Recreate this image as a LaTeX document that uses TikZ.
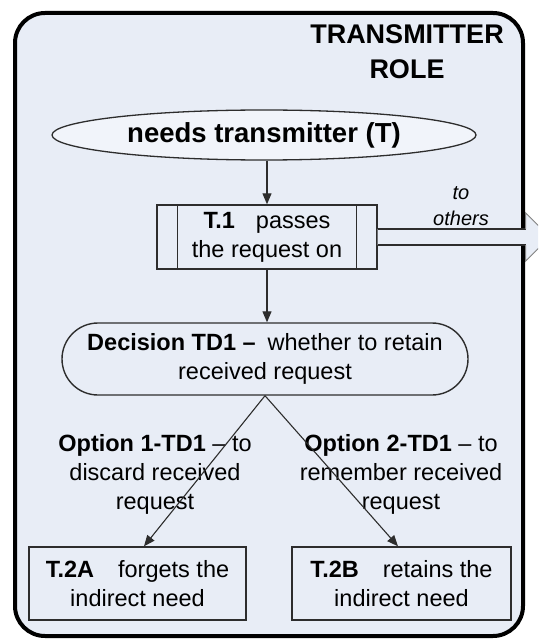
\documentclass[tikz,border=0pt]{standalone}
\usepackage{fontspec}
\setmainfont{Liberation Sans}
\usetikzlibrary{arrows.meta,shapes.geometric}
\definecolor{panel}{RGB}{232,237,246}
\definecolor{ink}{RGB}{45,45,45}
\definecolor{headline}{RGB}{130,130,130}

\begin{document}
\begin{tikzpicture}[x=1pt,y=-1pt,
  body/.style={font=\fontsize{23.5}{29}\selectfont, align=center, inner sep=0pt},
  box/.style={draw=ink, line width=1.4pt, fill=panel},
  conn/.style={draw=ink, line width=1.1pt, -{Triangle[length=11pt,width=9pt]}},
]
\useasboundingbox (0,0) rectangle (538,639);
\clip (0,0) rectangle (538,639);
\fill[white] (0,0) rectangle (538,639);

% role frame
\node[draw=black, line width=4pt, fill=panel, rounded corners=30pt,
      minimum width=508pt, minimum height=623pt, inner sep=0pt] (role) at (269,324.5) {};
\node[font=\fontsize{27}{35}\selectfont\bfseries, align=center, inner sep=0pt] (title) at (407,52) {TRANSMITTER\\ROLE};

% start: the need
\node[ellipse, draw=ink, line width=1.3pt, fill=panel!60!white, minimum width=424pt,
      minimum height=50pt, inner sep=0pt, font=\fontsize{27.5}{33}\selectfont\bfseries] (need) at (264,135) {needs transmitter (T)};

% T.1 process box with side bars
\node[box, minimum width=220pt, minimum height=64pt, body] (t1) at (267,237)
  {\textbf{T.1}\hspace{21pt}passes\\the request on};
\draw[ink, line width=1.4pt] ([xshift=21pt]t1.north west) -- ([xshift=21pt]t1.south west);
\draw[ink, line width=1.4pt] ([xshift=-21pt]t1.north east) -- ([xshift=-21pt]t1.south east);

% block arrow leaving the role
\fill[panel] ([yshift=8pt]t1.east) -- ++(148,0) -- ++(0,-16) -- ++(24,24) -- ++(-24,24) -- ++(0,-16) -- ++(-148,0) -- cycle;
\draw[ink, line width=1.4pt] ([yshift=8pt]t1.east) -- ++(148,0);
\draw[ink, line width=1.4pt] ([yshift=-8pt]t1.east) -- ++(148,0);
\draw[headline, line width=1pt] ([yshift=8pt,xshift=148pt]t1.east) -- ++(0,-16) -- ++(24,24) -- ++(-24,24) -- ++(0,-16);
\node[font=\fontsize{20}{26}\selectfont\itshape, align=center, inner sep=0pt] (others) at (461,206) {to\\others};

% decision
\node[box, rounded corners=36pt, minimum width=406pt, minimum height=72pt, body] (dec) at (265,359)
  {\textbf{Decision TD1 –}\hspace{12pt}whether to retain\\received request};

% outcomes
\node[box, minimum width=217pt, minimum height=73pt, body] (t2a) at (137.5,583.5)
  {\textbf{T.2A}\hspace{24pt}forgets the\\indirect need};
\node[box, minimum width=219pt, minimum height=73pt, body] (t2b) at (401.5,583.5)
  {\textbf{T.2B}\hspace{24pt}retains the\\indirect need};

% option labels
\node[body] (opt1) at (155,474) {\textbf{Option 1-TD1} – to\\discard received\\request};
\node[body] (opt2) at (401,474) {\textbf{Option 2-TD1} – to\\remember received\\request};

% connectors
\draw[conn] (t1.north |- need.south) -- (t1.north);
\draw[conn] (t1.south) -- (t1.south |- dec.north);
\draw[conn] (dec.south) -- ([xshift=6.5pt]t2a.north);
\draw[conn] (dec.south) -- ([xshift=-3.5pt]t2b.north);
\end{tikzpicture}
\end{document}
